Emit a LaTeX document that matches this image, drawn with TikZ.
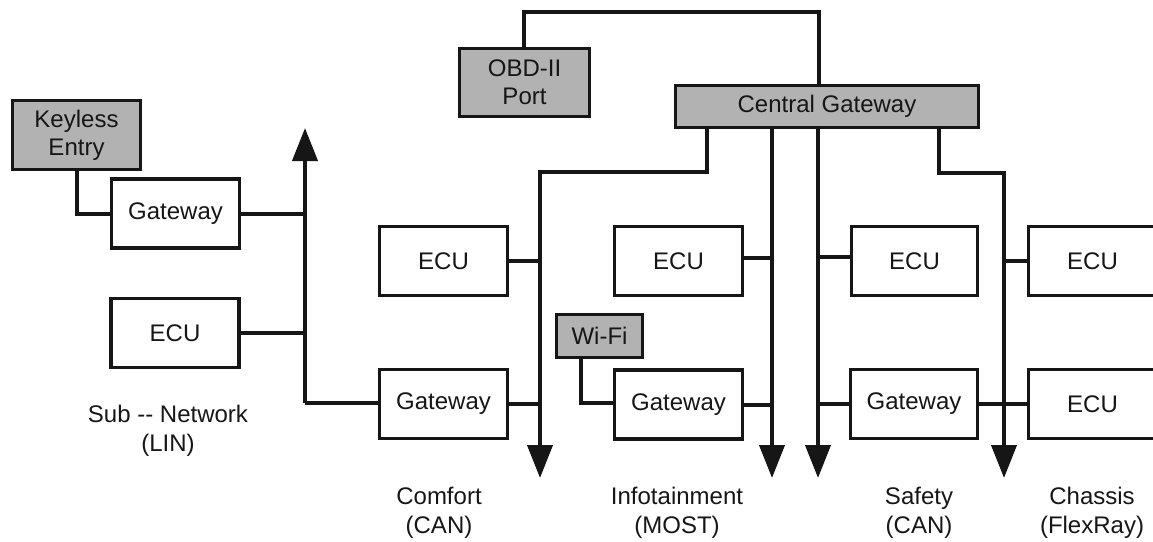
\documentclass[tikz,border=0pt]{standalone}
\usepackage{fontspec}
\setmainfont{Liberation Sans}
\usetikzlibrary{arrows.meta}
\definecolor{boxgray}{RGB}{178,178,178}
\definecolor{ink}{RGB}{22,22,22}
\tikzset{
  unit/.style={draw=ink, line width=3.4pt, fill=white, minimum width=128pt,
    minimum height=69pt, inner sep=0pt, text=ink, font=\fontsize{24}{28}\selectfont},
  shaded/.style={unit, fill=boxgray},
  wire/.style={draw=ink, line width=4pt, line join=miter},
  bus/.style={wire, -{Triangle[width=25pt,length=33pt]}},
  tag/.style={text=ink, align=center, inner sep=0pt,
    font=\fontsize{24}{29}\selectfont}
}
\begin{document}
\begin{tikzpicture}[x=1pt,y=-1pt]
\useasboundingbox (0,0) rectangle (1153,541);

% --- LIN sub-network ---
\node[shaded, align=center] (keyless) at (76.5,135) {Keyless\\Entry};
\node[unit] (gwlin) at (175.5,213.5) {Gateway};
\node[unit] (eculin) at (175,333) {ECU};
\coordinate (linTop) at (305,128);
\coordinate (linBot) at (305,403);

% --- central gateway and diagnostics ---
\node[shaded, minimum width=303pt, minimum height=42pt] (cgw) at (827,106.5) {Central Gateway};
\node[shaded, align=center, minimum width=130pt, minimum height=68pt] (obd) at (524.5,82.5) {OBD-II\\Port};
\coordinate (obdA) at (524,12);
\coordinate (obdB) at (819,12);

% --- domain units, upper row ---
\node[unit] (ecuA) at (443.5,261) {ECU};
\node[unit] (ecuB) at (678.5,261) {ECU};
\node[unit, minimum width=126pt] (ecuC) at (914.5,261) {ECU};
\node[unit] (ecuD) at (1092.5,261) {ECU};

% --- domain units, lower row ---
\node[unit] (gwA) at (443.5,404) {Gateway};
\node[shaded, minimum width=86pt, minimum height=43pt] (wifi) at (599.5,336) {Wi-Fi};
\node[unit] (gwB) at (678.5,404.5) {Gateway};
\node[unit, minimum width=127pt] (gwC) at (914,404) {Gateway};
\node[unit] (ecuE) at (1092.5,404) {ECU};

% --- bus routing points ---
\coordinate (cmf1) at (707,172);
\coordinate (cmf2) at (540,172);
\coordinate (cmfEnd) at (540,478);
\coordinate (infX) at (772,0);
\coordinate (infEnd) at (772,478);
\coordinate (safX) at (818,0);
\coordinate (safEnd) at (818,478);
\coordinate (chs1) at (939,173);
\coordinate (chs2) at (1004,173);
\coordinate (chsEnd) at (1004,478);
\coordinate (wifiKnee) at (581,403);
\coordinate (keyKnee) at (77,214);

% LIN bus
\draw[bus] (linBot) -- (linTop);
\draw[wire] (linBot) -- (gwA.west |- linBot);
\draw[wire] (gwlin.east) -- (gwlin.east -| linTop);
\draw[wire] (eculin.east) -- (eculin.east -| linTop);
\draw[wire] (keyless.south -| keyKnee) -- (keyKnee) -- (gwlin.west |- keyKnee);

% OBD link
\draw[wire] (obd.north -| obdA) -- (obdA) -- (obdB) -- (cgw.north -| obdB);

% domain buses
\draw[bus] (cgw.south -| cmf1) -- (cmf1) -- (cmf2) -- (cmfEnd);
\draw[bus] (cgw.south -| infX) -- (infEnd);
\draw[bus] (cgw.south -| safX) -- (safEnd);
\draw[bus] (cgw.south -| chs1) -- (chs1) -- (chs2) -- (chsEnd);

% stubs, upper row
\draw[wire] (ecuA.east) -- (ecuA.east -| cmf2);
\draw[wire] ([yshift=3.5pt]ecuB.east) -- ([yshift=3.5pt]ecuB.east -| infX);
\draw[wire] ([yshift=4pt]ecuC.west -| safX) -- ([yshift=4pt]ecuC.west);
\draw[wire] (ecuD.west -| chs2) -- (ecuD.west);

% stubs, lower row
\draw[wire] (gwA.east) -- (gwA.east -| cmf2);
\draw[wire] (wifi.south -| wifiKnee) -- (wifiKnee) -- (gwB.west |- wifiKnee);
\draw[wire] (gwB.east) -- (gwB.east -| infX);
\draw[wire] (gwC.west -| safX) -- (gwC.west);
\draw[wire] (gwC.east) -- (ecuE.west);

% network labels
\node[tag] (labLIN) at (168,431) {Sub -{}- Network\\(LIN)};
\node[tag] (labCmf) at (439,513) {Comfort\\(CAN)};
\node[tag] (labInf) at (677,513) {Infotainment\\(MOST)};
\node[tag] (labSaf) at (919,513) {Safety\\(CAN)};
\node[tag] (labChs) at (1092,513) {Chassis\\(FlexRay)};
\end{tikzpicture}
\end{document}
